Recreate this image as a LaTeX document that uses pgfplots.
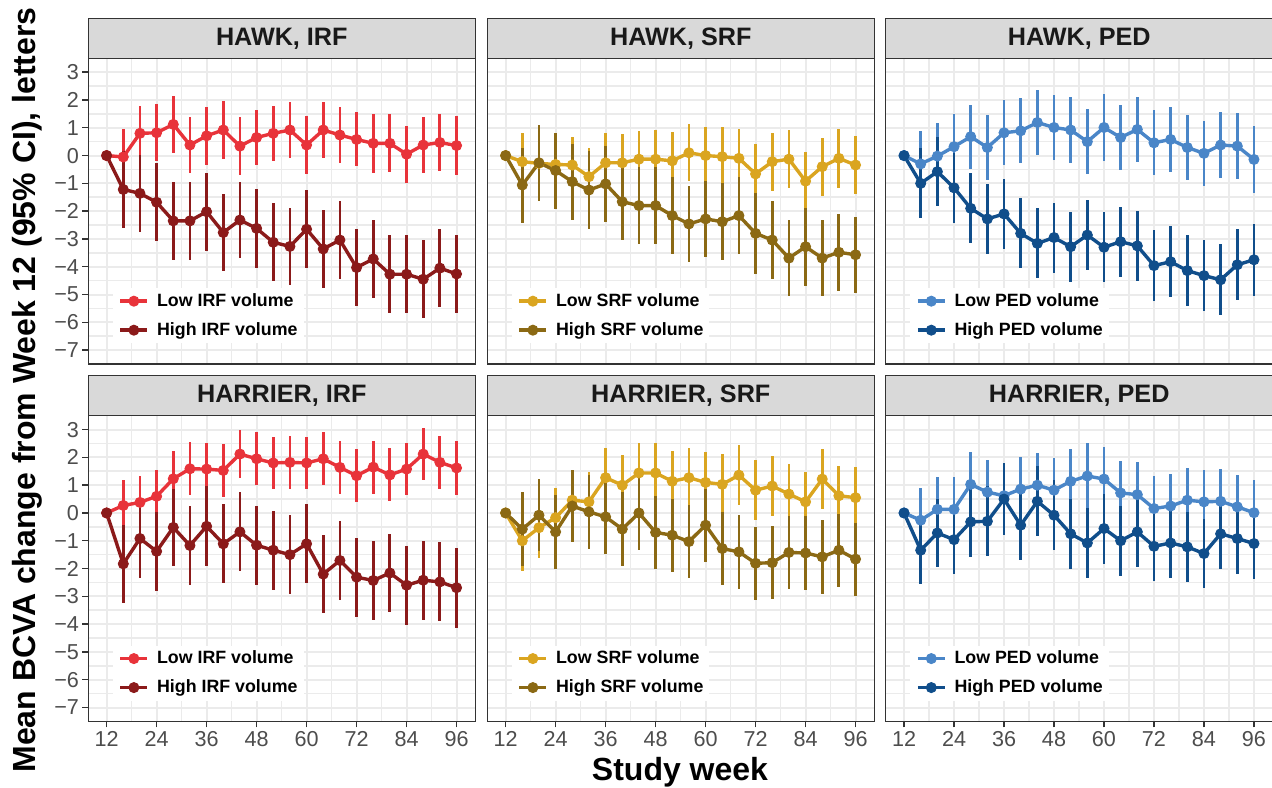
\documentclass[border=0pt]{standalone}
\usepackage{fontspec}
\setmainfont{Liberation Sans}
\usepackage{pgfplots}
\usepackage{pgfplotstable}
\pgfplotsset{compat=1.18}

\definecolor{gridc}{HTML}{EBEBEB}
\definecolor{framec}{HTML}{333333}
\definecolor{stripc}{HTML}{D9D9D9}
\definecolor{tickc}{HTML}{4D4D4D}
\definecolor{irfL}{HTML}{E8333A}
\definecolor{irfH}{HTML}{8B1A1A}
\definecolor{srfL}{HTML}{DAA520}
\definecolor{srfH}{HTML}{8B6914}
\definecolor{pedL}{HTML}{4A86C8}
\definecolor{pedH}{HTML}{104E8B}

\pgfplotstableread{
x lo loe hi hie
12 0 0 0 0
16 -0.05 1.00 -1.22 1.40
20 0.80 0.98 -1.36 1.38
24 0.82 1.02 -1.68 1.40
28 1.12 1.02 -2.35 1.40
32 0.38 1.02 -2.35 1.40
36 0.71 1.04 -2.02 1.40
40 0.92 1.03 -2.77 1.40
44 0.34 1.03 -2.32 1.38
48 0.65 1.00 -2.62 1.43
52 0.80 1.00 -3.12 1.40
56 0.92 1.00 -3.27 1.40
60 0.38 1.03 -2.65 1.40
64 0.92 1.02 -3.36 1.40
68 0.74 1.00 -3.04 1.40
72 0.58 0.97 -4.03 1.40
76 0.44 1.05 -3.72 1.40
80 0.44 1.04 -4.27 1.40
84 0.05 1.03 -4.27 1.40
88 0.38 1.02 -4.45 1.41
92 0.47 1.02 -4.05 1.41
96 0.36 1.05 -4.26 1.41
}\hawkirf

\pgfplotstableread{
x lo loe hi hie
12 0 0 0 0
16 -0.22 1.04 -1.06 1.35
20 -0.28 1.05 -0.26 1.37
24 -0.32 1.05 -0.54 1.37
28 -0.34 1.00 -0.94 1.37
32 -0.76 1.05 -1.24 1.40
36 -0.26 1.06 -1.02 1.38
40 -0.26 1.05 -1.66 1.38
44 -0.13 1.02 -1.80 1.38
48 -0.13 1.04 -1.80 1.38
52 -0.19 1.04 -2.16 1.38
56 0.10 1.03 -2.46 1.37
60 0.00 1.04 -2.28 1.38
64 -0.04 1.05 -2.38 1.38
68 -0.10 1.05 -2.16 1.40
72 -0.66 1.06 -2.80 1.45
76 -0.22 1.05 -3.04 1.40
80 -0.13 1.05 -3.69 1.37
84 -0.92 1.06 -3.28 1.40
88 -0.40 1.05 -3.69 1.38
92 -0.10 1.05 -3.48 1.38
96 -0.34 1.05 -3.57 1.37
}\hawksrf

\pgfplotstableread{
x lo loe hi hie
12 0 0 0 0
16 -0.30 1.20 -1.00 1.26
20 -0.02 1.18 -0.58 1.25
24 0.32 1.17 -1.16 1.26
28 0.68 1.15 -1.90 1.26
32 0.29 1.17 -2.28 1.26
36 0.82 1.17 -2.10 1.26
40 0.89 1.17 -2.80 1.26
44 1.19 1.16 -3.16 1.26
48 1.01 1.17 -2.95 1.26
52 0.92 1.17 -3.28 1.26
56 0.50 1.17 -2.86 1.26
60 1.01 1.19 -3.30 1.26
64 0.65 1.17 -3.10 1.26
68 0.94 1.17 -3.25 1.26
72 0.46 1.17 -3.96 1.27
76 0.58 1.17 -3.82 1.27
80 0.29 1.17 -4.14 1.27
84 0.08 1.18 -4.32 1.28
88 0.38 1.18 -4.47 1.28
92 0.34 1.18 -3.93 1.28
96 -0.14 1.19 -3.75 1.29
}\hawkped

\pgfplotstableread{
x lo loe hi hie
12 0 0 0 0
16 0.27 0.93 -1.83 1.40
20 0.38 0.95 -0.92 1.42
24 0.60 0.95 -1.38 1.42
28 1.23 0.99 -0.52 1.40
32 1.59 0.95 -1.17 1.42
36 1.58 0.95 -0.48 1.44
40 1.53 0.95 -1.11 1.42
44 2.12 0.85 -0.68 1.42
48 1.95 0.95 -1.16 1.42
52 1.80 0.95 -1.34 1.42
56 1.82 0.95 -1.50 1.42
60 1.80 0.95 -1.11 1.42
64 1.95 0.95 -2.20 1.41
68 1.64 0.95 -1.71 1.42
72 1.34 0.95 -2.31 1.42
76 1.65 0.95 -2.43 1.42
80 1.37 0.95 -2.16 1.42
84 1.58 0.95 -2.60 1.42
88 2.12 0.95 -2.42 1.42
92 1.82 0.95 -2.48 1.42
96 1.62 0.96 -2.69 1.44
}\harrirf

\pgfplotstableread{
x lo loe hi hie
12 0 0 0 0
16 -1.00 1.10 -0.58 1.32
20 -0.53 1.08 -0.08 1.30
24 -0.17 1.08 -0.68 1.32
28 0.46 1.08 0.25 1.30
32 0.40 1.08 0.04 1.32
36 1.27 1.07 -0.14 1.32
40 1.00 1.08 -0.58 1.32
44 1.44 1.06 0.00 1.34
48 1.44 1.09 -0.70 1.32
52 1.14 1.08 -0.80 1.32
56 1.27 1.08 -1.03 1.32
60 1.10 1.08 -0.44 1.32
64 1.03 1.08 -1.28 1.32
68 1.36 1.08 -1.40 1.32
72 0.82 1.08 -1.81 1.32
76 0.97 1.08 -1.79 1.32
80 0.68 1.08 -1.42 1.32
84 0.40 1.08 -1.44 1.32
88 1.22 1.09 -1.58 1.32
92 0.62 1.08 -1.34 1.32
96 0.55 1.10 -1.66 1.31
}\harrsrf

\pgfplotstableread{
x lo loe hi hie
12 0 0 0 0
16 -0.26 1.16 -1.34 1.21
20 0.13 1.16 -0.72 1.24
24 0.13 1.16 -0.96 1.24
28 1.03 1.16 -0.32 1.26
32 0.75 1.16 -0.30 1.26
36 0.62 1.16 0.50 1.29
40 0.86 1.16 -0.44 1.26
44 1.00 1.16 0.42 1.26
48 0.82 1.16 -0.08 1.26
52 1.14 1.16 -0.75 1.26
56 1.33 1.17 -1.08 1.26
60 1.22 1.17 -0.56 1.26
64 0.72 1.16 -1.00 1.26
68 0.66 1.16 -0.68 1.26
72 0.16 1.16 -1.20 1.26
76 0.25 1.16 -1.08 1.26
80 0.46 1.16 -1.22 1.26
84 0.40 1.16 -1.46 1.23
88 0.42 1.16 -0.75 1.26
92 0.22 1.16 -0.92 1.26
96 0.01 1.16 -1.10 1.26
}\harrped

\pgfplotsset{
  panel/.style={
    scale only axis, width=193.5pt, height=152.85pt,
    anchor=north west,
    xmin=7.6, xmax=100.5, ymin=-7.5, ymax=3.5,
    xtick={12,24,...,96}, ytick={-7,-6,...,3},
    minor xtick={18,30,...,90}, minor ytick={-6.5,-5.5,...,2.5},
    xmajorgrids, ymajorgrids, xminorgrids, yminorgrids,
    major grid style={draw=gridc, line width=1pt},
    minor grid style={draw=gridc, line width=0.8pt},
    axis line style={draw=framec, line width=0.7pt},
    tick style={draw=framec, line width=0.7pt},
    tick align=outside, major tick length=3pt, minor tick length=0pt,
    xtick pos=bottom, ytick pos=left,
    xticklabels={}, yticklabels={},
    ticklabel style={font=\fontsize{10.8}{12}\selectfont, text=tickc},
    yticklabel style={inner sep=1.5pt},
    xticklabel style={inner sep=2pt},
    legend cell align=left,
    legend style={at={(0.062,0.158)}, anchor=west, draw=none, fill=white,
      inner xsep=3pt, inner ysep=2pt,
      font=\bfseries\fontsize{8.9}{10}\selectfont,
      row sep=5.5pt, column sep=4pt,
      nodes={inner sep=0pt, text height=7pt, text depth=2pt}},
    legend image code/.code={\draw[mark repeat=2, mark phase=2, ##1] plot coordinates {(0pt,0pt) (6.75pt,0pt) (13.5pt,0pt)};},
  },
  xlab/.style={xticklabels={12,24,36,48,60,72,84,96}},
  ylab/.style={yticklabels={−7,−6,−5,−4,−3,−2,−1,0,1,2,3}},
  nox/.style={xmajorticks=false},
  noy/.style={ymajorticks=false},
  ser/.style={draw=#1, line width=1.7pt, mark=*, mark size=2.5pt,
    mark options={solid, fill=#1, draw=#1, line width=0.5pt},
    error bars/.cd, y dir=both, y explicit, error mark=none,
    error bar style={draw=#1, line width=1.4pt}},
}

\tikzset{
  stripbox/.style={fill=stripc, draw=framec, line width=0.7pt},
  striptxt/.style={font=\bfseries\fontsize{12.6}{14}\selectfont, text=black!90},
}

\begin{document}
\begin{tikzpicture}
\path[use as bounding box] (0pt,0pt) rectangle (636pt,-393.5pt);

% ---------- Row 1 ----------
\begin{axis}[panel, nox, ylab, name=a1, at={(44.15pt,-29.15pt)}]
\addplot[ser=irfL] table[x=x, y=lo, y error=loe] {\hawkirf};
\addlegendentry{Low IRF volume}
\addplot[ser=irfH] table[x=x, y=hi, y error=hie] {\hawkirf};
\addlegendentry{High IRF volume}
\end{axis}

\begin{axis}[panel, nox, noy, name=a2, at={(243.65pt,-29.15pt)}]
\addplot[ser=srfL] table[x=x, y=lo, y error=loe] {\hawksrf};
\addlegendentry{Low SRF volume}
\addplot[ser=srfH] table[x=x, y=hi, y error=hie] {\hawksrf};
\addlegendentry{High SRF volume}
\end{axis}

\begin{axis}[panel, nox, noy, name=a3, at={(442.85pt,-29.15pt)}]
\addplot[ser=pedL] table[x=x, y=lo, y error=loe] {\hawkped};
\addlegendentry{Low PED volume}
\addplot[ser=pedH] table[x=x, y=hi, y error=hie] {\hawkped};
\addlegendentry{High PED volume}
\end{axis}

% ---------- Row 2 ----------
\begin{axis}[panel, xlab, ylab, name=b1, at={(44.15pt,-207.85pt)}]
\addplot[ser=irfL] table[x=x, y=lo, y error=loe] {\harrirf};
\addlegendentry{Low IRF volume}
\addplot[ser=irfH] table[x=x, y=hi, y error=hie] {\harrirf};
\addlegendentry{High IRF volume}
\end{axis}

\begin{axis}[panel, xlab, noy, name=b2, at={(243.65pt,-207.85pt)}]
\addplot[ser=srfL] table[x=x, y=lo, y error=loe] {\harrsrf};
\addlegendentry{Low SRF volume}
\addplot[ser=srfH] table[x=x, y=hi, y error=hie] {\harrsrf};
\addlegendentry{High SRF volume}
\end{axis}

\begin{axis}[panel, xlab, noy, name=b3, at={(442.85pt,-207.85pt)}]
\addplot[ser=pedL] table[x=x, y=lo, y error=loe] {\harrped};
\addlegendentry{Low PED volume}
\addplot[ser=pedH] table[x=x, y=hi, y error=hie] {\harrped};
\addlegendentry{High PED volume}
\end{axis}

% ---------- Strips ----------
\foreach \n/\t in {a1/{HAWK, IRF}, a2/{HAWK, SRF}, a3/{HAWK, PED}, b1/{HARRIER, IRF}, b2/{HARRIER, SRF}, b3/{HARRIER, PED}} {
  \draw[stripbox] (\n.north west) rectangle ([yshift=20pt]\n.north east);
  \node[striptxt] at ([yshift=10pt]\n.north) {\t};
}

% ---------- Axis titles ----------
\node[rotate=90, font=\bfseries\fontsize{16}{18}\selectfont] at (13.5pt,-195pt) {Mean BCVA change from Week 12 (95\% CI), letters};
\node[anchor=base, font=\bfseries\fontsize{16}{18}\selectfont] at (340pt,-390pt) {Study week};
\end{tikzpicture}
\end{document}
